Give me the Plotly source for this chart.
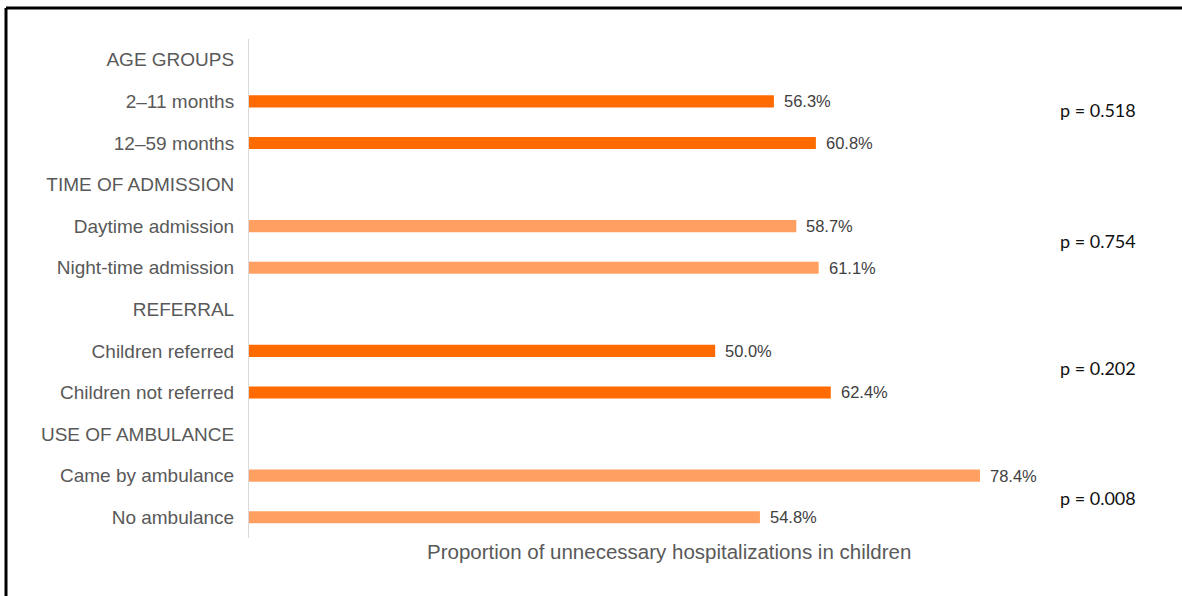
import plotly.graph_objects as go

# Row labels, top to bottom (section headers have no bar)
row_labels = [
    "AGE GROUPS", "2–11 months", "12–59 months",
    "TIME OF ADMISSION", "Daytime admission", "Night-time admission",
    "REFERRAL", "Children referred", "Children not referred",
    "USE OF AMBULANCE", "Came by ambulance", "No ambulance",
]
# Proportion of unnecessary hospitalizations (%) per row; None for headers
values = [None, 56.3, 60.8, None, 58.7, 61.1, None, 50.0, 62.4, None, 78.4, 54.8]
# Shade per section: dark orange for age/referral, light orange for time/ambulance
row_shade = [None, "dark", "dark", None, "light", "light", None, "dark", "dark", None, "light", "light"]
p_values = ["p = 0.518", "p = 0.754", "p = 0.202", "p = 0.008"]
p_rows = [1.2, 4.36, 7.41, 10.54]

DARK = "#FF6B00"
LIGHT = "#FFA062"
shade_colors = {"dark": DARK, "light": LIGHT}

ys = [i for i, v in enumerate(values) if v is not None]
xs = [values[i] for i in ys]
cols = [shade_colors[row_shade[i]] for i in ys]

fig = go.Figure()
fig.add_trace(go.Bar(
    x=xs, y=ys, orientation="h",
    marker=dict(color=cols, line=dict(width=0)),
    width=0.29, hoverinfo="skip",
))

annotations = []
for y, v in zip(ys, xs):
    annotations.append(dict(
        x=v, y=y, xref="x", yref="y", text=f"{v:.1f}%",
        showarrow=False, xanchor="left", yanchor="middle", xshift=8,
        font=dict(family="Liberation Sans, Arial", size=16.5, color="#404040"),
    ))
for txt, yr in zip(p_values, p_rows):
    annotations.append(dict(
        x=1.048, y=yr, xref="paper", yref="y", text=txt,
        showarrow=False, xanchor="left", yanchor="middle",
        font=dict(family="Lato, Carlito, sans-serif", size=18, color="#111111"),
    ))
annotations.append(dict(
    x=0.544, y=0.0, xref="paper", yref="paper",
    text="Proportion of unnecessary hospitalizations in children",
    showarrow=False, xanchor="center", yanchor="top",
    font=dict(family="Liberation Sans, Arial", size=20.5, color="#595959"),
))

fig.update_layout(
    width=1182, height=596,
    margin=dict(l=249, r=161, t=39, b=58),
    paper_bgcolor="white", plot_bgcolor="white",
    showlegend=False,
    annotations=annotations,
    xaxis=dict(range=[0, 82.8], showgrid=False, zeroline=False,
               showticklabels=False, showline=False, fixedrange=True),
    yaxis=dict(range=[11.5, -0.5], tickmode="array",
               tickvals=list(range(len(row_labels))), ticktext=row_labels,
               showgrid=False, zeroline=False,
               showline=True, linecolor="#D9D9D9", linewidth=1,
               ticks="outside", ticklen=10, tickcolor="rgba(0,0,0,0)",
               tickfont=dict(family="Liberation Sans, Arial", size=19, color="#595959")),
    shapes=[
        # frame lines along top and left edges
        dict(type="line", xref="paper", yref="paper",
             x0=(6 - 249) / 772, x1=(1182 - 249) / 772,
             y0=(538 - 8) / 499, y1=(538 - 8) / 499,
             line=dict(color="black", width=3)),
        dict(type="line", xref="paper", yref="paper",
             x0=(6 - 249) / 772, x1=(6 - 249) / 772,
             y0=(538 - 8) / 499, y1=(538 - 600) / 499,
             line=dict(color="black", width=3)),
    ],
)

fig.write_html("out.html")
